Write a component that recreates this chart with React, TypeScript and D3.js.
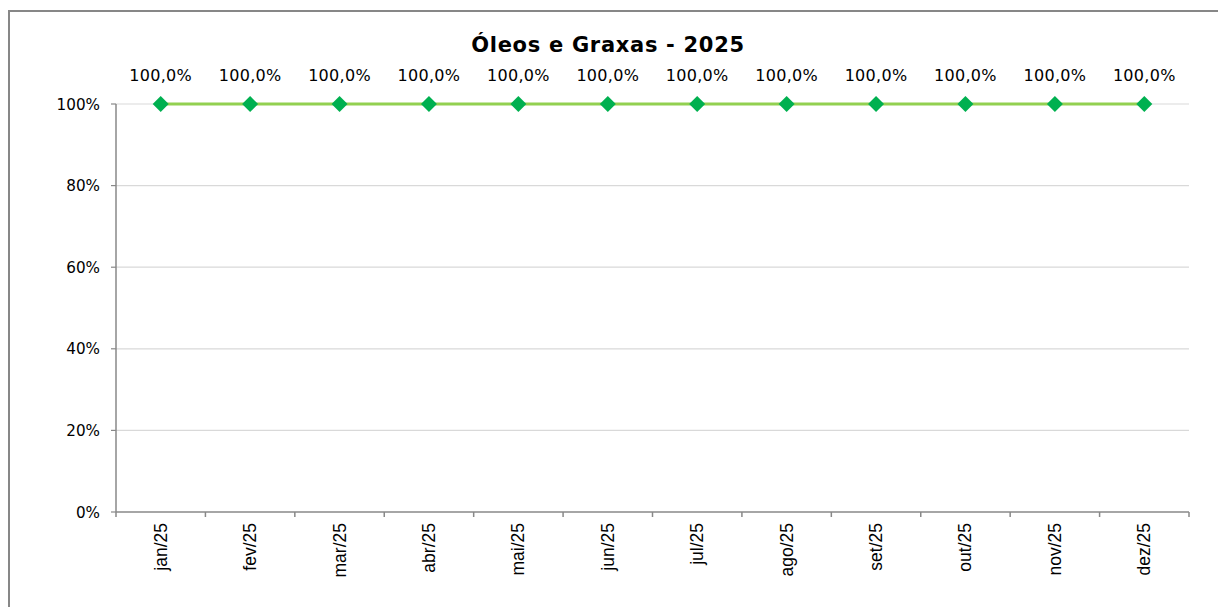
import React from 'react';
import * as d3 from 'd3';

const width = 1218;
const height = 607;

const months = ['jan/25', 'fev/25', 'mar/25', 'abr/25', 'mai/25', 'jun/25', 'jul/25', 'ago/25', 'set/25', 'out/25', 'nov/25', 'dez/25'];
const values = [1, 1, 1, 1, 1, 1, 1, 1, 1, 1, 1, 1];
const yTicks = [0, 0.2, 0.4, 0.6, 0.8, 1];

const title = 'Óleos e Graxas - 2025';

const left = 116;
const right = 1189;
const top = 104;
const bottom = 512;

const x = d3.scaleBand().domain(months).range([left, right]);
const y = d3.scaleLinear().domain([0, 1]).range([bottom, top]);

const line = d3.line<number>()
  .x((d, i) => x(months[i])! + x.bandwidth() / 2)
  .y(d => y(d));

const pct = d3.format('.0%');
const label = (v: number) => (v * 100).toFixed(1).replace('.', ',') + '%';

const verdana = '"DejaVu Sans", Verdana, sans-serif';
const calibri = '"Liberation Sans", Arial, sans-serif';

const App = () => (
  <svg width={width} height={height} style={{ position: 'absolute', left: 0, top: 0 }}>
    <rect x={0} y={0} width={width} height={height} fill="white" />
    <rect x={9} y={11} width={width + 20} height={height + 20} fill="none" stroke="#878787" strokeWidth={2} />
    <text x={608} y={52} textAnchor="middle" fontFamily={verdana} fontWeight="bold" fontSize={21} letterSpacing={0.7}>{title}</text>

    {yTicks.map(t => (
      <g key={t}>
        {t > 0 && <line x1={left} x2={right} y1={y(t)} y2={y(t)} stroke="#d9d9d9" strokeWidth={1.2} />}
        <line x1={left - 5} x2={left} y1={y(t)} y2={y(t)} stroke="#888" strokeWidth={1.2} />
        <text x={100} y={y(t) + 5.5} textAnchor="end" fontFamily={verdana} fontSize={15.2}>{pct(t)}</text>
      </g>
    ))}

    <line x1={left} x2={left} y1={top} y2={bottom} stroke="#888" strokeWidth={1.5} />
    <line x1={left} x2={right} y1={bottom} y2={bottom} stroke="#888" strokeWidth={1.5} />
    {[...months.map(m => x(m)!), right].map((p, i) => (
      <line key={i} x1={p} x2={p} y1={bottom} y2={bottom + 5} stroke="#888" strokeWidth={1.5} />
    ))}
    {months.map(m => (
      <text key={m} transform={`translate(${x(m)! + x.bandwidth() / 2 + 6},${bottom + 11}) rotate(-90)`}
        textAnchor="end" fontFamily={calibri} fontSize={17.5}>{m}</text>
    ))}

    <path d={line(values)!} fill="none" stroke="#92d050" strokeWidth={3} />
    {values.map((v, i) => {
      const cx = x(months[i])! + x.bandwidth() / 2;
      const cy = y(v);
      return (
        <g key={i}>
          <path d={`M${cx},${cy - 8}L${cx + 8},${cy}L${cx},${cy + 8}L${cx - 8},${cy}Z`} fill="#00b050" />
          <text x={cx} y={cy - 23} textAnchor="middle" fontFamily={verdana} fontSize={16} letterSpacing={0.3}>{label(v)}</text>
        </g>
      );
    })}
  </svg>
);

export default App;
